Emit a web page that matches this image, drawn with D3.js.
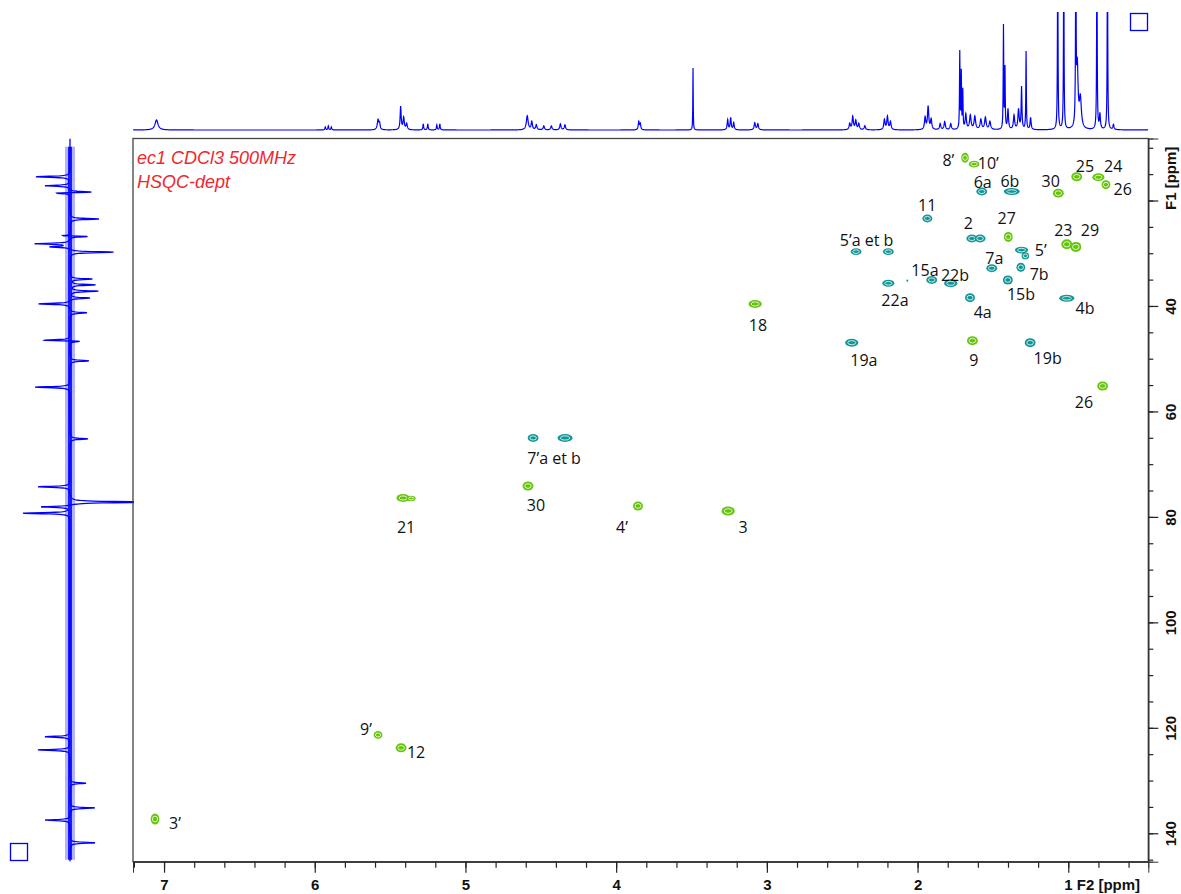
<!DOCTYPE html>
<html><head><meta charset="utf-8">
<script src="https://cdn.jsdelivr.net/npm/d3@7"></script>
<style>
html,body{margin:0;padding:0;background:#fff;}
svg{display:block;}
</style></head>
<body>
<svg id="chart" width="1181" height="894"></svg>
<script>
// ---------- DATA ----------
// 2D HSQC cross peaks: F2 (1H) ppm, F1 (13C) ppm, phase (+1 CH/CH3 green, -1 CH2 teal), linewidths (ppm)
const peakH  = [1.685,1.625,1.574,1.375,1.066,0.944,0.800,0.750,1.935,1.640,1.585,1.398,2.408,2.194,1.310,1.285,1.010,0.950,1.508,1.315,2.194,2.068,1.906,1.780,1.401,1.652,1.010,2.437,1.636,1.253,0.772,3.078,4.551,4.339,4.585,5.414,5.360,3.855,3.257,5.580,5.427,7.060];
const peakC  = [11.9,13.1,18.3,18.3,18.6,15.5,15.6,17.0,23.4,27.2,27.2,26.9,29.7,29.7,29.4,30.5,28.3,28.8,32.85,32.66,35.7,35.2,35.07,35.7,35.07,38.43,38.54,46.96,46.58,46.96,55.17,39.62,65.03,65.03,74.14,76.41,76.5,77.93,78.88,121.36,123.8,137.3];
const peakSign=[1,1,-1,-1,1,1,1,1,-1,-1,-1,1,-1,-1,-1,-1,1,1,-1,-1,-1,-1,-1,-1,-1,-1,-1,-1,1,-1,1,1,-1,-1,1,1,1,1,1,1,1,1];
const peakWH = [0.050,0.070,0.072,0.105,0.072,0.072,0.080,0.058,0.066,0.072,0.072,0.058,0.072,0.072,0.088,0.050,0.072,0.072,0.072,0.058,0.080,0.013,0.072,0.088,0.066,0.066,0.100,0.088,0.072,0.072,0.072,0.088,0.072,0.100,0.072,0.088,0.058,0.066,0.088,0.058,0.072,0.058];
const peakWC = [1.9,1.3,1.5,1.3,1.7,1.7,1.5,1.7,1.5,1.5,1.5,1.9,1.3,1.3,1.3,1.3,1.9,1.9,1.5,1.7,1.3,0.4,1.5,1.5,1.7,1.7,1.3,1.5,1.7,1.7,1.7,1.5,1.5,1.5,1.7,1.5,1.0,1.7,1.7,1.5,1.7,2.1];

// Assignment labels (text, F2 ppm, F1 ppm)
const labText = ["8’","10’","6a","6b","30","25","24","26","11","2","27","23","29","5’a et b","5’","7a","7b","15a","22b","22a","15b","4a","4b","19a","9","19b","26","18","7’a et b","30","21","4’","3","9’","12","3’"];
const labH = [1.796,1.531,1.568,1.387,1.117,0.889,0.702,0.639,1.936,1.664,1.409,1.033,0.856,2.338,1.183,1.491,1.193,1.951,1.752,2.150,1.314,1.568,0.889,2.356,1.626,1.137,0.896,3.059,4.412,4.532,5.394,3.961,3.158,5.660,5.328,6.927];
const labC = [12.3,12.9,16.6,16.43,16.43,13.58,13.58,17.87,20.85,24.32,23.37,25.59,25.59,27.48,29.55,30.95,33.95,33.17,34.12,39.0,37.72,41.19,40.44,50.24,50.24,49.92,58.34,43.6,68.83,77.74,81.91,81.91,81.91,120.22,124.58,138.05];

// 1H projection (top): peak ppm, height, half width (ppm)
const hPpm = [7.05,5.93,5.91,5.89,5.58,5.57,5.43,5.41,5.39,5.28,5.25,5.19,5.17,4.59,4.56,4.53,4.48,4.43,4.37,4.34,3.85,3.84,3.49,3.26,3.24,3.22,3.08,3.06,2.45,2.43,2.41,2.39,2.35,2.22,2.20,2.18,1.95,1.93,1.91,1.85,1.82,1.78,1.72,1.71,1.70,1.68,1.65,1.62,1.58,1.55,1.52,1.43,1.42,1.40,1.36,1.33,1.31,1.28,1.25,1.07,1.03,0.95,0.94,0.92,0.81,0.79,0.74,0.70];
const hInt = [10,3,4,3,10,6,23,12,6,6,6,5,6,14,8,5,4,4,6,5,8,6,62,10,12,7,7,6,6,13,9,6,4,10,13,8,12,23,10,6,8,6,77,56,38,15,14,13,10,12,8,103,60,20,14,20,42,78,12,200,200,200,60,30,200,15,200,5];
const hW   = [0.012,0.003,0.003,0.003,0.006,0.004,0.004,0.005,0.005,0.003,0.003,0.003,0.003,0.007,0.005,0.005,0.005,0.005,0.005,0.005,0.004,0.004,0.0015,0.004,0.004,0.004,0.005,0.005,0.005,0.005,0.005,0.005,0.005,0.005,0.005,0.005,0.005,0.005,0.005,0.005,0.005,0.005,0.002,0.002,0.002,0.005,0.006,0.006,0.006,0.006,0.006,0.002,0.002,0.004,0.005,0.005,0.003,0.002,0.004,0.002,0.002,0.002,0.006,0.008,0.002,0.004,0.002,0.004];

// 13C projection (left): peak ppm, signed intensity
const cPpm = [15.5,17.2,18.4,18.6,23.5,26.7,26.8,28.2,28.8,29.8,34.9,36.0,37.2,38.5,39.6,41.3,46.5,46.7,50.4,55.4,65.2,74.3,77.2,78.1,79.3,121.7,124.2,130.5,135.2,137.5,141.8];
const cInt = [-34,-25,27,-20,29,-22,30,-35,-20,44,22,25,28,20,-32,17,-30,17,19,-35,18,-32,90,-30,-47,-25,-32,16,25,-25,25];

// Axis ticks
const xMajor = [7,6,5,4,3,2,1];
const xMinor = d3.range(0.6, 7.21, 0.2).map(v => +v.toFixed(1));
const yMajor = [20,40,60,80,100,120,140];
const yMinor = d3.range(10, 146, 5);

// ---------- LAYOUT ----------
const svg = d3.select("#chart");
const L = 133, R = 1148.3, T = 138.5, B = 861.7;
const x = d3.scaleLinear().domain([7.206, 0.469]).range([L, R]);
const y = d3.scaleLinear().domain([8.24, 145.39]).range([T, B]);
const teal = "#149696", green = "#66c40c", blue = "#0000ff";

// ---------- top 1H projection ----------
const yTop = d3.scaleLinear().domain([0, 100]).range([130, 30]);
svg.append("clipPath").attr("id","clipTop").append("rect").attr("x",L).attr("y",12).attr("width",R-L).attr("height",125);
function sampleGrid(lo, hi, step, centers){
  const g = d3.range(lo, hi, step).concat(centers);
  return g.sort((a,b)=>a-b);
}
const topPts = sampleGrid(0.469, 7.206, 0.001, hPpm).map(p => {
  let s = 0; for (let i=0;i<hPpm.length;i++){ const d=p-hPpm[i]; s += hInt[i]*hW[i]*hW[i]/(d*d+hW[i]*hW[i]); }
  return [p, s];
});
svg.append("path").attr("clip-path","url(#clipTop)")
  .attr("d", d3.line().x(d=>x(d[0])).y(d=>yTop(d[1]))(topPts))
  .attr("fill","none").attr("stroke",blue).attr("stroke-width",1.2);

// ---------- left 13C projection ----------
const xLeft = d3.scaleLinear().domain([-50, 50]).range([20, 120]);
svg.append("clipPath").attr("id","clipLeft").append("rect").attr("x",0).attr("y",T).attr("width",L+1).attr("height",B-T);
const cw = 0.12;
const leftPts = sampleGrid(8.24, 145.39, 0.04, cPpm).map(p => {
  let s = 0; for (let i=0;i<cPpm.length;i++){ const d=p-cPpm[i]; s += cInt[i]*cw*cw/(d*d+cw*cw); }
  return [p, s];
});
svg.append("line").attr("x1",xLeft(0)).attr("x2",xLeft(0)).attr("y1",y(9.8)).attr("y2",y(145))
  .attr("stroke",blue).attr("stroke-width",10).attr("stroke-opacity",0.3);
svg.append("line").attr("x1",xLeft(0)).attr("x2",xLeft(0)).attr("y1",y(9.8)).attr("y2",y(145))
  .attr("stroke",blue).attr("stroke-width",4).attr("stroke-opacity",0.85);
svg.append("path").attr("clip-path","url(#clipLeft)")
  .attr("d", d3.line().x(d=>xLeft(d[1])).y(d=>y(d[0]))(leftPts))
  .attr("fill","none").attr("stroke",blue).attr("stroke-width",1.3);

// ---------- frame ----------
svg.append("rect").attr("x",L).attr("y",T).attr("width",R-L).attr("height",B-T)
  .attr("fill","none").attr("stroke","#444").attr("stroke-width",1.3);

// ---------- axes ----------
const axFont = "'Liberation Sans', Arial, sans-serif";
const gxMin = svg.append("g").attr("transform",`translate(0,${B})`)
  .call(d3.axisBottom(x).tickValues(xMinor).tickSize(6).tickFormat(""));
const gx = svg.append("g").attr("transform",`translate(0,${B})`)
  .call(d3.axisBottom(x).tickValues(xMajor).tickSize(11).tickPadding(7).tickFormat(d3.format("d")));
[gxMin, gx].forEach(g => { g.select(".domain").attr("stroke","#333"); g.selectAll("line").attr("stroke","#222").attr("stroke-width",1.2); });
gx.selectAll("text").attr("font-family",axFont).attr("font-weight","bold").attr("font-size",15).attr("fill","#111");
gx.selectAll("text").filter(d=>d===1).text("1 F2 [ppm]").attr("text-anchor","start").attr("dx",-4.5);

const gyMin = svg.append("g").attr("transform",`translate(${R},0)`)
  .call(d3.axisRight(y).tickValues(yMinor).tickSize(5).tickFormat(""));
const gy = svg.append("g").attr("transform",`translate(${R},0)`)
  .call(d3.axisRight(y).tickValues(yMajor).tickSize(10).tickFormat(d3.format("d")));
[gyMin, gy].forEach(g => { g.select(".domain").attr("stroke","#333"); g.selectAll("line").attr("stroke","#222").attr("stroke-width",1.2); });
gy.selectAll("text")
  .attr("x",0).attr("dy","0.35em").attr("text-anchor","middle")
  .attr("transform","translate(22,0) rotate(-90)")
  .attr("font-family",axFont).attr("font-weight","bold").attr("font-size",15).attr("fill","#111");
gy.selectAll("text").filter(d=>d===20).text("F1 [ppm]").attr("text-anchor","start").attr("transform","translate(22,9) rotate(-90)");

// ---------- cross peaks ----------
const gp = svg.append("g");
peakH.forEach((h,i) => {
  const cx = x(h), cy = y(peakC[i]);
  const rx = Math.abs(x(h) - x(h + peakWH[i]/2)), ry = Math.abs(y(peakC[i] + peakWC[i]/2) - cy);
  const col = peakSign[i] > 0 ? green : teal;
  gp.append("ellipse").attr("cx",cx).attr("cy",cy).attr("rx",rx).attr("ry",ry).attr("fill",col);
  if (rx > 2.5) {
    gp.append("ellipse").attr("cx",cx).attr("cy",cy).attr("rx",rx*0.6).attr("ry",ry*0.52)
      .attr("fill","none").attr("stroke","#fff").attr("stroke-width",0.9).attr("stroke-opacity",0.85);
    gp.append("ellipse").attr("cx",cx).attr("cy",cy).attr("rx",rx*0.22).attr("ry",ry*0.2).attr("fill",col);
  }
});

// ---------- labels ----------
svg.append("g").selectAll("text").data(labText).join("text")
  .attr("x",(d,i)=>x(labH[i])).attr("y",(d,i)=>y(labC[i])).attr("dy","0.35em")
  .attr("text-anchor","middle").attr("font-family","'Open Sans', 'Noto Sans', sans-serif")
  .attr("font-size",16).attr("fill","#111").text(d=>d);

// ---------- title ----------
const titleLines = ["ec1 CDCl3 500MHz","HSQC-dept"];
svg.append("g").selectAll("text").data(titleLines).join("text")
  .attr("x",137).attr("y",(d,i)=>164+i*24).attr("font-family",axFont).attr("font-style","italic")
  .attr("font-size",18).attr("fill","#f0282d").text(d=>d);

// ---------- corner boxes ----------
svg.append("rect").attr("x",1130.5).attr("y",13.5).attr("width",17).attr("height",17).attr("fill","none").attr("stroke",blue).attr("stroke-width",1.3);
svg.append("rect").attr("x",10.5).attr("y",843.5).attr("width",17).attr("height",17).attr("fill","none").attr("stroke",blue).attr("stroke-width",1.3);
</script>
</body></html>
